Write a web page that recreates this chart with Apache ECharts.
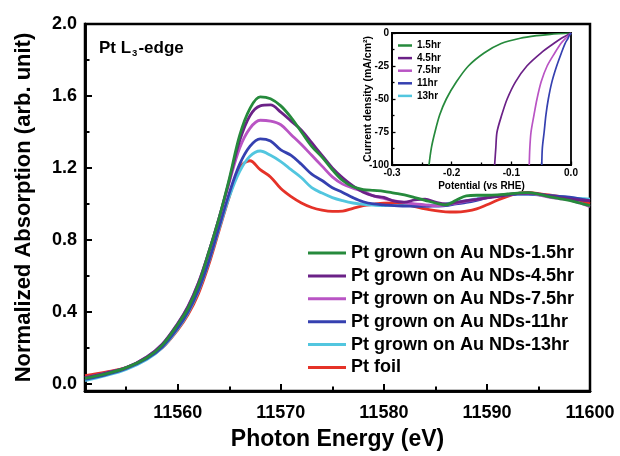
<!DOCTYPE html>
<html>
<head>
<meta charset="utf-8">
<script src="https://cdn.jsdelivr.net/npm/echarts@6/dist/echarts.min.js"></script>
<style>
  html, body { margin: 0; padding: 0; background: #fff; }
  #chart { width: 620px; height: 456px; }
</style>
</head>
<body>
<div id="chart"></div>
<script>
// ---- XANES spectra, Pt L3-edge ----
const energy = [11551, 11553, 11555, 11557, 11558.5, 11560, 11561, 11562, 11563, 11564, 11565, 11566, 11567, 11568,
  11569, 11570, 11571, 11572, 11573, 11574, 11575, 11576, 11577, 11578, 11579, 11580, 11581, 11582, 11583, 11584,
  11585, 11586, 11587, 11588, 11589, 11590, 11591, 11592, 11593, 11594, 11595, 11596, 11597, 11598, 11599, 11600];

const absPt15 = [0.03, 0.055, 0.09, 0.145, 0.215, 0.33, 0.42, 0.55, 0.73, 0.92, 1.14, 1.38, 1.53, 1.595,
  1.585, 1.545, 1.48, 1.40, 1.32, 1.26, 1.19, 1.13, 1.095, 1.08, 1.075, 1.07, 1.06, 1.05, 1.035, 1.02,
  1.005, 0.995, 1.02, 1.045, 1.048, 1.048, 1.05, 1.055, 1.06, 1.063, 1.055, 1.04, 1.03, 1.02, 1.005, 0.99];

const absPt45 = [0.035, 0.06, 0.09, 0.15, 0.22, 0.335, 0.43, 0.56, 0.73, 0.92, 1.13, 1.35, 1.49, 1.545,
  1.55, 1.51, 1.46, 1.41, 1.34, 1.27, 1.2, 1.145, 1.1, 1.065, 1.045, 1.036, 1.015, 1.01, 1.022, 1.027,
  1.01, 1.0, 1.008, 1.018, 1.025, 1.033, 1.04, 1.05, 1.058, 1.06, 1.056, 1.045, 1.035, 1.027, 1.022, 1.018];

const absPt75 = [0.035, 0.06, 0.09, 0.15, 0.22, 0.335, 0.43, 0.56, 0.73, 0.92, 1.12, 1.31, 1.42, 1.465,
  1.46, 1.44, 1.385, 1.33, 1.27, 1.21, 1.15, 1.11, 1.088, 1.07, 1.045, 1.03, 1.017, 1.008, 1.0, 0.995,
  0.99, 0.995, 1.005, 1.015, 1.025, 1.035, 1.045, 1.052, 1.058, 1.06, 1.05, 1.037, 1.03, 1.022, 1.005, 0.985];

const absPt11 = [0.025, 0.05, 0.085, 0.14, 0.205, 0.31, 0.40, 0.52, 0.68, 0.87, 1.06, 1.22, 1.32, 1.362,
  1.35, 1.30, 1.27, 1.22, 1.165, 1.13, 1.09, 1.064, 1.035, 1.012, 1.0, 0.995, 0.99, 0.988, 0.987, 0.986,
  0.988, 0.99, 1.0, 1.008, 1.02, 1.035, 1.045, 1.05, 1.055, 1.055, 1.052, 1.047, 1.042, 1.037, 1.028, 1.018];

const absPt13 = [0.018, 0.045, 0.08, 0.135, 0.2, 0.305, 0.395, 0.515, 0.675, 0.86, 1.04, 1.18, 1.265, 1.294,
  1.27, 1.235, 1.19, 1.145, 1.09, 1.06, 1.035, 1.018, 1.005, 0.998, 0.993, 0.99, 0.99, 0.99, 0.99, 0.992,
  0.994, 1.0, 1.01, 1.018, 1.028, 1.038, 1.045, 1.05, 1.054, 1.055, 1.05, 1.045, 1.042, 1.036, 1.03, 1.027];

const absFoil = [0.045, 0.065, 0.09, 0.14, 0.2, 0.3, 0.385, 0.5, 0.66, 0.85, 1.04, 1.2, 1.24, 1.19,
  1.15, 1.085, 1.04, 1.005, 0.98, 0.965, 0.958, 0.96, 0.975, 0.99, 0.998, 1.004, 1.005, 0.998, 0.985, 0.972,
  0.962, 0.956, 0.955, 0.96, 0.972, 0.995, 1.02, 1.042, 1.058, 1.064, 1.057, 1.05, 1.042, 1.035, 1.02, 1.0];

const xanesNames = ['Pt grown on Au NDs-1.5hr', 'Pt grown on Au NDs-4.5hr', 'Pt grown on Au NDs-7.5hr',
  'Pt grown on Au NDs-11hr', 'Pt grown on Au NDs-13hr', 'Pt foil'];

const xTickValues = [11560, 11570, 11580, 11590, 11600];
const xMinorValues = [11555, 11565, 11575, 11585, 11595];
const yTickValues = [0, 0.4, 0.8, 1.2, 1.6, 2.0];
const yMinorValues = [0.2, 0.6, 1.0, 1.4, 1.8];

// ---- HER polarization curves (inset) ----
const currentDensity = [-100, -87, -75, -62, -50, -37, -25, -15, -8, -4, -2, -1, 0];
const potential15 = [-0.238, -0.234, -0.228, -0.220, -0.209, -0.192, -0.172, -0.145, -0.117, -0.085, -0.057, -0.035, 0];
const potential45 = [-0.128, -0.126, -0.124, -0.116, -0.107, -0.093, -0.074, -0.050, -0.029, -0.016, -0.008, -0.004, 0];
const potential75 = [-0.070, -0.069, -0.067, -0.062, -0.057, -0.050, -0.040, -0.027, -0.017, -0.009, -0.004, -0.002, 0];
const potential11 = [-0.049, -0.048, -0.045, -0.042, -0.038, -0.032, -0.024, -0.016, -0.010, -0.005, -0.003, -0.001, 0];
const potential13 = [];
const lsvNames = ['1.5hr', '4.5hr', '7.5hr', '11hr', '13hr'];

const colors = ['#268a3c', '#6b2187', '#b954c4', '#3540b0', '#52c6df', '#e53228'];
const FONT = '"Liberation Sans", Arial, sans-serif';

function pairs(xs, ys) { return xs.map((x, i) => [x, ys[i]]); }

const xanesValues = [absPt15, absPt45, absPt75, absPt11, absPt13, absFoil];
const lsvPotentials = [potential15, potential45, potential75, potential11, potential13];

const mainSeries = xanesValues.map((vals, i) => ({
  name: xanesNames[i], type: 'line', xAxisIndex: 0, yAxisIndex: 0,
  data: pairs(energy, vals), showSymbol: false, smooth: 0.35,
  lineStyle: { color: colors[i], width: 2.8 }, itemStyle: { color: colors[i] },
  z: 10 - i
}));

const insetSeries = lsvPotentials.map((pots, i) => ({
  name: lsvNames[i], type: 'line', xAxisIndex: 2, yAxisIndex: 2,
  data: pots.map((p, k) => [p, currentDensity[k]]), showSymbol: false, smooth: 0.3,
  lineStyle: { color: colors[i], width: 1.7 }, itemStyle: { color: colors[i] },
  z: 20
}));

// empty series bound to the minor-tick axes so every cartesian pair carries data
const minorTickHolder = {
  type: 'line', xAxisIndex: 1, yAxisIndex: 1, data: [], silent: true, showSymbol: false
};

const bold = (size) => ({ color: '#000', fontFamily: FONT, fontWeight: 'bold', fontSize: size });
const plain = (v) => String(Math.round(v));
// axis lines stay on the frame edge instead of jumping to the zero crossing
const frameLine = (w) => ({ show: true, onZero: false, lineStyle: { color: '#000', width: w } });

const option = {
  animation: false,
  backgroundColor: '#fff',
  title: {
    text: '{a|Pt L}{s|3}{a|-edge}',
    left: 99, top: 38, padding: 0,
    textStyle: {
      rich: {
        a: Object.assign(bold(17), { lineHeight: 20, verticalAlign: 'middle' }),
        s: Object.assign(bold(9.5), { lineHeight: 20, verticalAlign: 'bottom', padding: [0, 1, 0, 1] })
      }
    }
  },
  grid: [
    { left: 85, right: 30, top: 24, bottom: 63, show: true, borderColor: '#000', borderWidth: 2.5 },
    { left: 392, right: 49, top: 33, bottom: 291, show: true, borderColor: '#000', borderWidth: 1.8 }
  ],
  legend: [
    {
      data: xanesNames, orient: 'vertical', left: 308, top: 244, padding: 0,
      icon: 'rect', itemWidth: 38, itemHeight: 3, itemGap: 4.9,
      textStyle: Object.assign(bold(18), { lineHeight: 18 }),
      selectedMode: false
    },
    {
      data: lsvNames, orient: 'vertical', left: 398, top: 39.5, padding: 0,
      icon: 'rect', itemWidth: 14, itemHeight: 2.5, itemGap: 0.6,
      textStyle: Object.assign(bold(10), { lineHeight: 12 }),
      selectedMode: false
    }
  ],
  xAxis: [
    {
      gridIndex: 0, type: 'value', min: 11551, max: 11600,
      axisLine: frameLine(2.5), splitLine: { show: false },
      axisTick: { show: true, inside: true, length: 7, customValues: xTickValues, lineStyle: { color: '#000', width: 2 } },
      axisLabel: Object.assign(bold(18), { customValues: xTickValues, margin: 13, formatter: plain }),
      name: 'Photon Energy (eV)', nameLocation: 'middle', nameGap: 37, nameMoveOverlap: false,
      nameTextStyle: bold(23)
    },
    {
      gridIndex: 0, type: 'value', min: 11551, max: 11600, position: 'bottom',
      axisLine: frameLine(2.5), splitLine: { show: false }, axisLabel: { show: false },
      axisTick: { show: true, inside: true, length: 4.5, customValues: xMinorValues, lineStyle: { color: '#000', width: 2 } }
    },
    {
      gridIndex: 1, type: 'value', min: -0.3, max: 0, interval: 0.1,
      axisLine: frameLine(1.8), splitLine: { show: false },
      axisTick: { show: true, inside: true, length: 3.5, lineStyle: { color: '#000', width: 1.3 } },
      minorTick: { show: true, splitNumber: 2, length: 2.5, lineStyle: { color: '#000', width: 1.3 } },
      axisLabel: Object.assign(bold(10), { margin: 3, formatter: v => v.toFixed(1) }),
      name: 'Potential (vs RHE)', nameLocation: 'middle', nameGap: 16, nameMoveOverlap: false,
      nameTextStyle: bold(10)
    }
  ],
  yAxis: [
    {
      gridIndex: 0, type: 'value', min: -0.04, max: 2.0,
      axisLine: frameLine(2.5), splitLine: { show: false },
      axisTick: { show: true, inside: true, length: 7, customValues: yTickValues, lineStyle: { color: '#000', width: 2 } },
      axisLabel: Object.assign(bold(18), { customValues: yTickValues, margin: 8, formatter: v => v.toFixed(1) }),
      name: 'Normalized Absorption (arb. unit)', nameLocation: 'middle', nameGap: 50, nameMoveOverlap: false,
      nameTextStyle: bold(22)
    },
    {
      gridIndex: 0, type: 'value', min: -0.04, max: 2.0, position: 'left',
      axisLine: frameLine(2.5), splitLine: { show: false }, axisLabel: { show: false },
      axisTick: { show: true, inside: true, length: 4.5, customValues: yMinorValues, lineStyle: { color: '#000', width: 2 } }
    },
    {
      gridIndex: 1, type: 'value', min: -100, max: 0, interval: 25,
      axisLine: frameLine(1.8), splitLine: { show: false },
      axisTick: { show: true, inside: true, length: 3.5, lineStyle: { color: '#000', width: 1.3 } },
      minorTick: { show: true, splitNumber: 2, length: 2.5, lineStyle: { color: '#000', width: 1.3 } },
      axisLabel: Object.assign(bold(10), { margin: 3 }),
      name: 'Current density (mA/cm²)', nameLocation: 'middle', nameGap: 18, nameMoveOverlap: false,
      nameTextStyle: bold(10.5)
    }
  ],
  series: mainSeries.concat(insetSeries, [minorTickHolder])
};

const chart = echarts.init(document.getElementById('chart'));
chart.setOption(option);
</script>
</body>
</html>
